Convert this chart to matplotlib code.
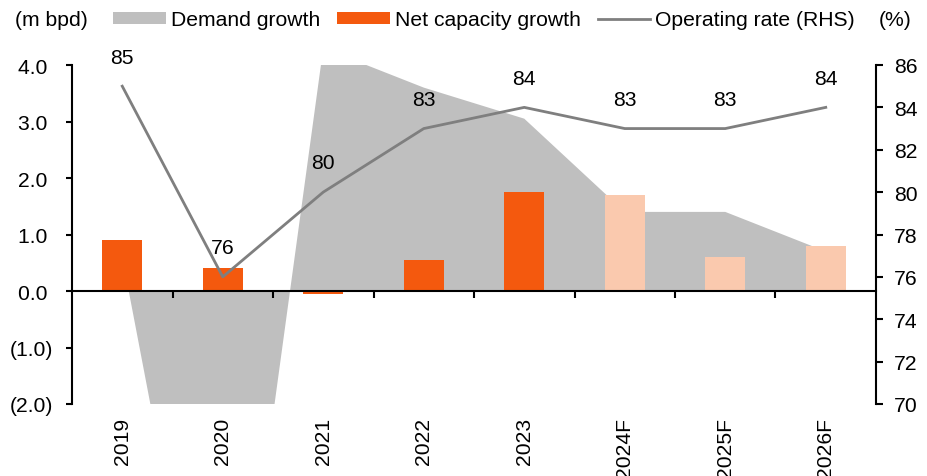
import matplotlib
matplotlib.use("Agg")
import matplotlib.pyplot as plt
from matplotlib.patches import Patch
from matplotlib.lines import Line2D
import matplotlib.transforms as mtransforms
import numpy as np

categories = ["2019", "2020", "2021", "2022", "2023", "2024F", "2025F", "2026F"]
demand_growth = [0.6, -8.7, 4.3, 3.6, 3.05, 1.4, 1.4, 0.7]
net_capacity_growth = [0.9, 0.4, -0.05, 0.54, 1.76, 1.7, 0.6, 0.8]
operating_rate = [85, 76, 80, 83, 84, 83, 83, 84]
is_forecast = [False, False, False, False, False, True, True, True]
left_ticks = [-2, -1, 0, 1, 2, 3, 4]
left_labels = ["(2.0)", "(1.0)", "0.0 ", "1.0 ", "2.0 ", "3.0 ", "4.0 "]
right_ticks = [70, 72, 74, 76, 78, 80, 82, 84, 86]

FONT = ["Liberation Sans", "DejaVu Sans"]
FS = 15.2

C_GREY = "#BFBFBF"
C_ORANGE = "#F4590E"
C_PEACH = "#FAC9AE"
C_LINE = "#7F7F7F"

W, H = 928, 477
fig = plt.figure(figsize=(W / 100, H / 100), dpi=100)
ax = fig.add_axes([72 / W, 1 - 405 / H, (876 - 72) / W, (405 - 66) / H])
x = np.arange(len(categories))

ax.fill_between(x, 0, demand_growth, color=C_GREY, linewidth=0, zorder=1)
bar_colors = [C_PEACH if f else C_ORANGE for f in is_forecast]
ax.bar(x, net_capacity_growth, width=0.4, color=bar_colors, zorder=2)

ax.set_xlim(-0.5, len(categories) - 0.5)
ax.set_ylim(-2, 4)
ax.set_yticks(left_ticks)
ax.set_yticklabels(left_labels, family=FONT, fontsize=FS)
ax.tick_params(axis="y", direction="out", length=4.5, width=1.5, pad=9)
ax.spines["top"].set_visible(False)
ax.spines["right"].set_visible(False)
ax.spines["left"].set_linewidth(1.5)
ax.spines["bottom"].set_position(("data", 0))
ax.spines["bottom"].set_linewidth(1.5)
ax.spines["bottom"].set_zorder(5)
ax.set_xticks(np.arange(0.5, len(categories) - 1, 1.0))
ax.set_xticklabels([])
ax.tick_params(axis="x", direction="out", length=5, width=1.5)

trans = mtransforms.blended_transform_factory(ax.transData, ax.transAxes)
for i, c in enumerate(categories):
    ax.text(i, -0.038, c, transform=trans, rotation=90, ha="center", va="top",
            family=FONT, fontsize=FS)

ax2 = ax.twinx()
ax2.plot(x, operating_rate, color=C_LINE, linewidth=2, zorder=3)
ax2.set_ylim(70, 86)
ax2.set_yticks(right_ticks)
ax2.set_yticklabels([str(t) for t in right_ticks], family=FONT, fontsize=FS)
ax2.tick_params(axis="y", direction="out", length=5, width=1.5, pad=8)
for s in ["top", "bottom", "left"]:
    ax2.spines[s].set_visible(False)
ax2.spines["right"].set_linewidth(1.5)
for xi, v in zip(x, operating_rate):
    ax2.annotate(str(v), (xi, v), xytext=(0, 21), textcoords="offset points",
                 ha="center", va="center", family=FONT, fontsize=FS)

handles = [Patch(facecolor=C_GREY, edgecolor="none"),
           Patch(facecolor=C_ORANGE, edgecolor="none"),
           Line2D([0], [0], color=C_LINE, linewidth=2)]
labels = ["Demand growth", "Net capacity growth", "Operating rate (RHS)"]
fig.legend(handles, labels, loc="center left", bbox_to_anchor=(113 / W, 1 - 21 / H),
           ncol=3, frameon=False, handlelength=2.5, handleheight=0.5,
           handletextpad=0.24, columnspacing=0.8, borderaxespad=0, borderpad=0,
           prop={"family": FONT, "size": FS})
fig.text(15 / W, 1 - 21 / H, "(m bpd)", ha="left", va="center", family=FONT, fontsize=FS)
fig.text(912 / W, 1 - 21 / H, "(%)", ha="right", va="center", family=FONT, fontsize=FS)

fig.savefig("out.png", dpi=100)
